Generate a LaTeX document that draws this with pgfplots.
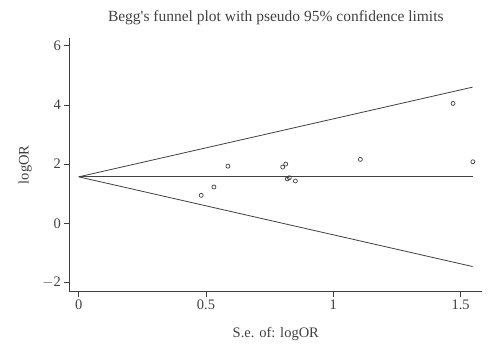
\documentclass[border=0pt]{standalone}
\usepackage{pgfplots}
\pgfplotsset{compat=1.18}
\usepackage{fontspec}
\setmainfont{Liberation Serif}
\definecolor{ln}{HTML}{404040}
\begin{document}
\begin{tikzpicture}
\path[use as bounding box] (0,0) rectangle (500pt,360pt);
\begin{axis}[
  at={(69.3pt,68.3pt)}, anchor=south west,
  scale only axis, width=413pt, height=253.7pt,
  xmin=-0.037, xmax=1.585, ymin=-2.31, ymax=6.26,
  axis x line*=bottom, axis y line*=left,
  axis line style={ln, line width=0.8pt, -},
  tick align=outside, tick style={ln, line width=0.8pt},
  major tick length=5pt,
  xtick={0,0.5,1,1.5}, ytick={-2,0,2,4,6},
  xticklabels={0,0.5,1,1.5},
  yticklabels={$-$2,0,2,4,6},
  tick label style={font=\fontsize{14.5}{16}\selectfont, text=ln},
  /pgf/number format/assume math mode=true,
  title={Begg\textquotesingle s funnel plot with pseudo 95\% confidence limits},
  title style={font=\fontsize{15.5}{17}\selectfont, text=ln, at={(axis description cs:0.5,1.055)}, anchor=center},
  xlabel={S.e. of: logOR},
  xlabel style={font=\fontsize{14.5}{16}\selectfont, text=ln, at={(axis description cs:0.5,-0.167)}, anchor=center},
  ylabel={logOR},
  ylabel style={font=\fontsize{14.5}{16}\selectfont, text=ln, at={(axis description cs:-0.107,0.5)}, anchor=center, rotate=0},
  clip=false,
]
\addplot[ln, line width=0.8pt] coordinates {(0,1.57) (1.547,4.60)};
\addplot[ln, line width=0.8pt] coordinates {(0,1.57) (1.547,-1.46)};
\addplot[ln, line width=0.8pt] coordinates {(0,1.57) (1.547,1.57)};
\addplot[only marks, mark=o, mark size=2pt, mark options={ln, line width=0.7pt}] coordinates {
(0.481,0.946) (0.531,1.226) (0.586,1.93) (0.801,1.90) (0.813,2.00)
(0.819,1.50) (0.827,1.54) (0.851,1.43) (1.106,2.16) (1.548,2.08) (1.470,4.05)
};
\end{axis}
\end{tikzpicture}
\end{document}
